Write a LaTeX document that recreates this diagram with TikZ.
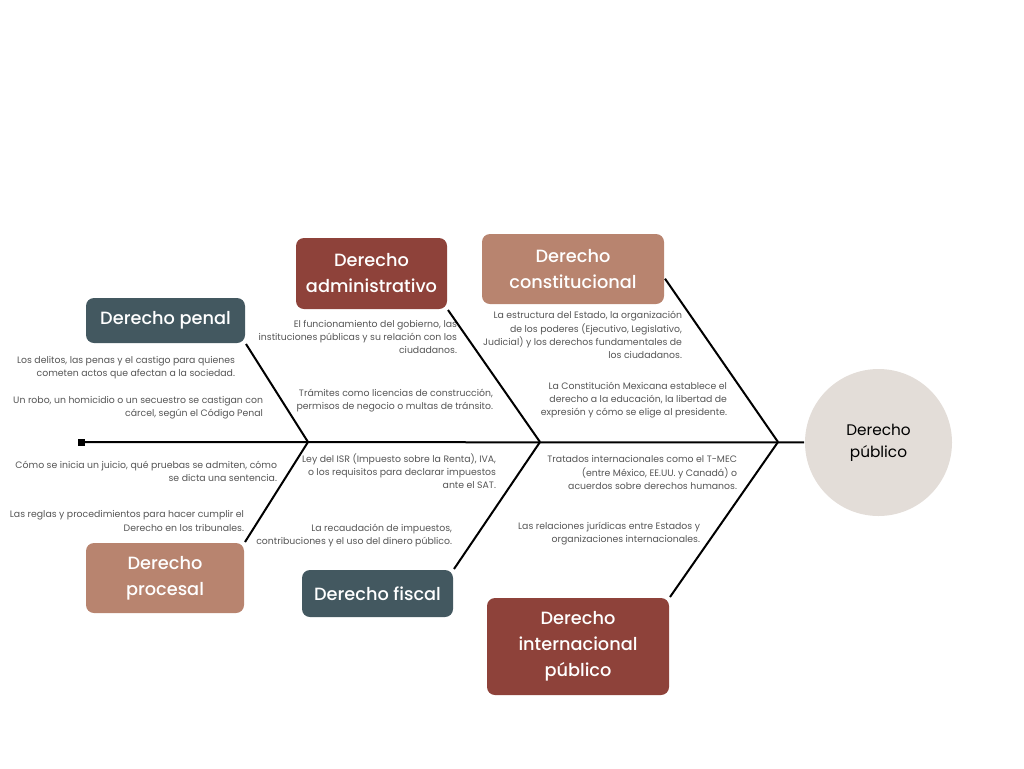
\documentclass[tikz,border=0pt]{standalone}
\usepackage{fontspec}
\setmainfont{Poppins}
\newfontfamily\titlefont{Poppins}[UprightFont=* Medium]
\definecolor{slate}{HTML}{435860}
\definecolor{clay}{HTML}{B8846F}
\definecolor{wine}{HTML}{8E423A}
\definecolor{sand}{HTML}{E3DDD8}
\definecolor{note}{HTML}{555555}

\begin{document}
\begin{tikzpicture}[x=0.75pt,y=-0.75pt,line width=1.5pt,
	branch/.style={rectangle,rounded corners=6pt,text=white,align=center,inner sep=2pt,font=\titlefont\fontsize{13.3}{19.5}\selectfont},
	head/.style={circle,fill=sand,minimum size=110.25pt,align=center,font=\fontsize{11.5}{16.5}\selectfont},
	remark/.style={align=right,inner sep=0pt,text=note,font=\fontsize{7}{9.9}\selectfont}]
	\useasboundingbox (0,0) rectangle (1024,768);

	% spine
	\coordinate				(tail)		at (81,442);
	\coordinate				(j1)		at (308,442);
	\coordinate				(j2)		at (540,442);
	\coordinate				(j3)		at (778,442);
	\node[head]				(top)		at (878.5,442.5)	{Derecho\\público};
	\fill (tail) ++(-3.5,-3.5) rectangle ++(7,7);

	% branches
	\node[branch,fill=slate,minimum width=119.25pt,minimum height=33.75pt]	(penal)		at (165.5,320.5)	{Derecho penal};
	\node[branch,fill=clay,minimum width=118.5pt,minimum height=52.5pt]	(procesal)	at (165,578)		{Derecho\\procesal};
	\node[branch,fill=wine,minimum width=113.25pt,minimum height=53.25pt]	(admin)		at (371.5,273.5)	{Derecho\\administrativo};
	\node[branch,fill=slate,minimum width=113.25pt,minimum height=35.25pt]	(fiscal)	at (377.5,593.5)	{Derecho fiscal};
	\node[branch,fill=clay,minimum width=136.5pt,minimum height=52.5pt]	(const)		at (573,269)		{Derecho\\constitucional};
	\node[branch,fill=wine,minimum width=136.5pt,minimum height=72.75pt]	(intern)	at (578,646.5)		{Derecho\\internacional\\público};

	% notes
	\node[remark,anchor=east]	(pen1)	at (236,367.5)	{Los delitos, las penas y el castigo para quienes\\cometen actos que afectan a la sociedad.};
	\node[remark,anchor=east]	(pen2)	at (264,408)	{Un robo, un homicidio o un secuestro se castigan con\\cárcel, según el Código Penal};
	\node[remark,anchor=east]	(pro1)	at (278,471.5)	{Cómo se inicia un juicio, qué pruebas se admiten, cómo\\se dicta una sentencia.};
	\node[remark,anchor=east]	(pro2)	at (245,521)	{Las reglas y procedimientos para hacer cumplir el\\Derecho en los tribunales.};
	\node[remark,anchor=east]	(adm1)	at (458,337)	{El funcionamiento del gobierno, las\\instituciones públicas y su relación con los\\ciudadanos.};
	\node[remark,anchor=east]	(adm2)	at (494,400.5)	{Trámites como licencias de construcción,\\permisos de negocio o multas de tránsito.};
	\node[remark,anchor=east]	(fis1)	at (497,471)	{Ley del ISR (Impuesto sobre la Renta), IVA,\\o los requisitos para declarar impuestos\\ante el SAT.};
	\node[remark,anchor=east]	(fis2)	at (453,535.5)	{La recaudación de impuestos,\\contribuciones y el uso del dinero público.};
	\node[remark,anchor=east]	(con1)	at (683,335)	{La estructura del Estado, la organización\\de los poderes (Ejecutivo, Legislativo,\\Judicial) y los derechos fundamentales de\\los ciudadanos.};
	\node[remark,anchor=east]	(con2)	at (728,400)	{La Constitución Mexicana establece el\\derecho a la educación, la libertad de\\expresión y cómo se elige al presidente.};
	\node[remark,anchor=east]	(int1)	at (738,472.5)	{Tratados internacionales como el T-MEC\\(entre México, EE.UU. y Canadá) o\\acuerdos sobre derechos humanos.};
	\node[remark,anchor=east]	(int2)	at (701,534)	{Las relaciones jurídicas entre Estados y\\organizaciones internacionales.};

	\path
		(tail)	edge	(top)
		(j1)	edge	(penal.south east)
		(j1)	edge	(procesal.north east)
		(j2)	edge	(admin.south east)
		(j2)	edge	(fiscal.north east)
		(j3)	edge	(const.-6)
		(j3)	edge	(intern.north east)
	;
\end{tikzpicture}
\end{document}
